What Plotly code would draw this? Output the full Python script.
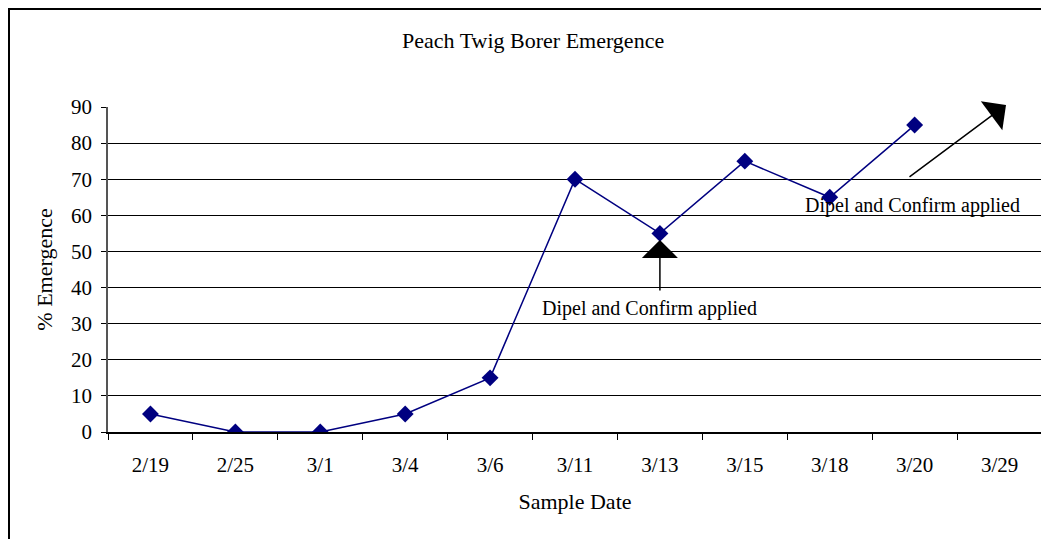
import plotly.graph_objects as go

# Data
dates = ["2/19", "2/25", "3/1", "3/4", "3/6", "3/11", "3/13", "3/15", "3/18", "3/20", "3/29"]
emergence = [5, 0, 0, 5, 15, 70, 55, 75, 65, 85, None]
y_ticks = [0, 10, 20, 30, 40, 50, 60, 70, 80, 90]

FONT = "Liberation Serif"
OFF = 8  # page body margin
W, H = 1041, 531
L, T = 108 - OFF, 107 - OFF
R = W - (1042 - OFF)
B = H - (432 - OFF)
pw, ph = W - L - R, H - T - B


# screenshot pixel position -> paper coords
def px(x):
    return (x - OFF - L) / pw


def py(y):
    return (T + ph - (y - OFF)) / ph


fig = go.Figure()
fig.add_trace(go.Scatter(
    x=dates, y=emergence, mode="lines+markers",
    line=dict(color="#000080", width=1.5),
    marker=dict(symbol="diamond", size=13, color="#000080"),
    connectgaps=False, showlegend=False,
))

fig.update_layout(
    width=W, height=H,
    margin=dict(l=L, r=R, t=T, b=B, autoexpand=False),
    paper_bgcolor="white", plot_bgcolor="white",
    font=dict(family=FONT, size=21, color="black"),
    xaxis=dict(
        type="category", categoryorder="array", categoryarray=dates,
        tickson="boundaries", ticks="outside", ticklen=6, tickwidth=1, tickcolor="black",
        showline=True, linecolor="black", linewidth=1.5,
        showgrid=False, zeroline=False,
        tickfont=dict(size=21), ticklabelstandoff=13,
        title=dict(text="Sample Date", font=dict(size=22), standoff=18),
        range=[-0.5, 10.5],
    ),
    yaxis=dict(
        range=[0, 90], tickvals=y_ticks,
        ticks="outside", ticklen=5, tickcolor="black",
        showline=True, linecolor="#555555", linewidth=1.5,
        showgrid=True, gridcolor="black", gridwidth=1,
        zeroline=False,
        tickfont=dict(size=21), ticklabelstandoff=5,
        title=dict(text="% Emergence", font=dict(size=22), standoff=12),
    ),
)

# chart title
fig.add_annotation(text="Peach Twig Borer Emergence", xref="paper", yref="paper",
                   x=px(533), y=py(40), showarrow=False, font=dict(size=22),
                   xanchor="center", yanchor="middle")

# arrows
fig.add_annotation(x="3/13", y=53.2, xref="x", yref="y", text="", showarrow=True,
                   ax=0, ay=52, arrowhead=1, arrowsize=4, arrowwidth=1.5,
                   arrowcolor="black", standoff=0)
fig.add_annotation(x=px(1006), y=py(105), xref="paper", yref="paper", text="", showarrow=True,
                   ax=-98, ay=73, arrowhead=1, arrowsize=4, arrowwidth=1.5,
                   arrowcolor="black", standoff=0)

# arrow labels
fig.add_annotation(text="Dipel and Confirm applied", xref="paper", yref="paper",
                   x=px(649), y=py(308), showarrow=False, font=dict(size=20),
                   xanchor="center", yanchor="middle")
fig.add_annotation(text="Dipel and Confirm applied", xref="paper", yref="paper",
                   x=px(912), y=py(205), showarrow=False, font=dict(size=20),
                   xanchor="center", yanchor="middle")

# outer chart border
fig.add_shape(type="rect", xref="paper", yref="paper",
              x0=px(9), y0=py(560), x1=px(1070), y1=py(9),
              line=dict(color="black", width=2), layer="above")

fig.write_html("out.html")
